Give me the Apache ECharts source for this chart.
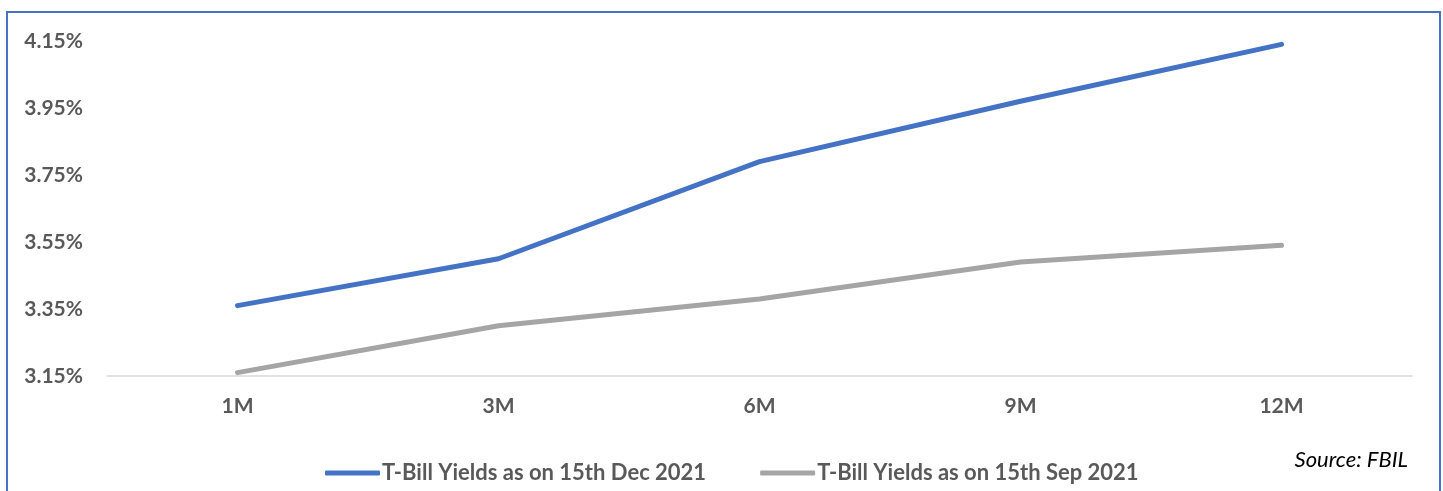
<!DOCTYPE html>
<html>
<head>
<meta charset="utf-8">
<script src="https://cdn.jsdelivr.net/npm/echarts@6/dist/echarts.min.js"></script>
<style>
html,body{margin:0;padding:0;background:#fff;}
#c{width:1443px;height:491px;}
</style>
</head>
<body>
<div id="c"></div>
<script>
const categories = ['1M', '3M', '6M', '9M', '12M'];
const dec2021 = [3.36, 3.50, 3.79, 3.97, 4.14];
const sep2021 = [3.16, 3.30, 3.38, 3.49, 3.54];
const seriesNames = ['T-Bill Yields as on 15th Dec 2021', 'T-Bill Yields as on 15th Sep 2021'];
const sourceText = 'Source: FBIL';

const chart = echarts.init(document.getElementById('c'), null, {renderer: 'canvas'});
const font = 'Lato, "Open Sans", sans-serif';
chart.setOption({
  animation: false,
  backgroundColor: '#fff',
  grid: {left: 107, right: 31, top: 41, bottom: 115, containLabel: false},
  xAxis: {
    type: 'category',
    data: categories,
    boundaryGap: true,
    axisLine: {lineStyle: {color: '#D9D9D9', width: 1.5}},
    axisTick: {show: false},
    axisLabel: {color: '#595959', fontFamily: font, fontWeight: 'bold', fontSize: 21, margin: 20}
  },
  yAxis: {
    type: 'value',
    min: 3.15, max: 4.15, interval: 0.2,
    splitLine: {show: false},
    axisLine: {show: false},
    axisTick: {show: false},
    axisLabel: {color: '#595959', fontFamily: font, fontWeight: 'bold', fontSize: 21, margin: 24,
      formatter: v => v.toFixed(2) + '%'}
  },
  legend: {
    left: 325, top: 461, padding: 0,
    itemWidth: 55, itemHeight: 5, itemGap: 54,
    icon: 'roundRect',
    textStyle: {color: '#595959', fontFamily: font, fontWeight: 'bold', fontSize: 22, lineHeight: 24, padding: [0,0,0,-3]},
    data: seriesNames
  },
  graphic: [
    {type: 'rect', shape: {x: 7, y: 12, width: 1433, height: 520},
     style: {fill: 'none', stroke: '#4472C4', lineWidth: 2}, silent: true},
    {type: 'text', right: 35, top: 449,
     style: {text: sourceText, fill: '#000', font: 'italic 22px ' + font}}
  ],
  series: [
    {name: seriesNames[0], type: 'line', data: dec2021, symbol: 'none',
     lineStyle: {color: '#4472C4', width: 5, cap: 'round', join: 'round'}, itemStyle: {color: '#4472C4'}},
    {name: seriesNames[1], type: 'line', data: sep2021, symbol: 'none',
     lineStyle: {color: '#A5A5A5', width: 5, cap: 'round', join: 'round'}, itemStyle: {color: '#A5A5A5'}}
  ]
});
</script>
</body>
</html>
